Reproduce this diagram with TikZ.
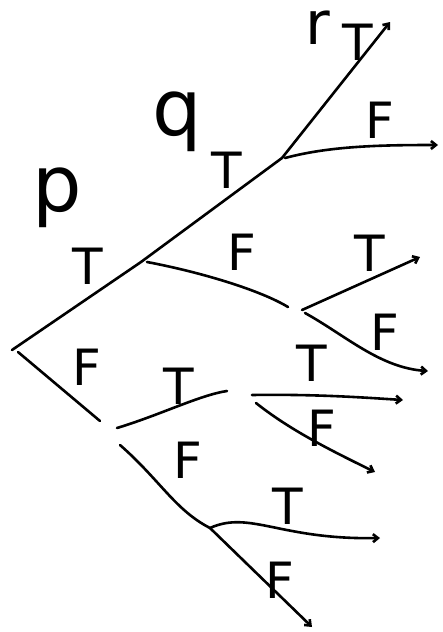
\documentclass[tikz,border=0pt]{standalone}
\usepackage{fontspec}
\setmainfont{DejaVu Sans}
\usetikzlibrary{arrows.meta}

\begin{document}
\begin{tikzpicture}[x=1pt,y=-1pt,
  br/.style={line width=2.6pt,line cap=round},
  leaf/.style={br,-{Straight Barb[length=5pt,width=8pt]}},
  lab/.style={font=\fontsize{50}{50}\selectfont,inner sep=0pt},
  var/.style={font=\fontsize{78}{78}\selectfont,inner sep=0pt}]
  \useasboundingbox (0,0) rectangle (443,632);
  % branch points
  \coordinate (root) at (12,350);
  \coordinate (pT) at (141,262);
  \coordinate (qT) at (282,158);
  \coordinate (qF) at (288,307);
  \coordinate (qFa) at (302,310);
  \coordinate (pF) at (100,421);
  \coordinate (pFa) at (117,428);
  \coordinate (pFb) at (120,445);
  \coordinate (pFT) at (227,391);
  \coordinate (pFTa) at (252,395);
  \coordinate (pFTb) at (256,403);
  \coordinate (pFF) at (210,528);
  % leaves
  \coordinate (rT) at (390,22);
  \coordinate (rF) at (438,145);
  \coordinate (qFT) at (420,257);
  \coordinate (qFF) at (428,371);
  \coordinate (pFTT) at (403,400);
  \coordinate (pFTF) at (375,472);
  \coordinate (pFFT) at (380,538);
  \coordinate (pFFF) at (312,627);

  % p
  \draw[br] (root) -- (pT);
  \draw[br] (root) ++(6,2) -- (pF);
  % q under p=T
  \draw[br] (pT) -- (qT);
  \draw[br] (pT) ++(6,0) .. controls (200,272) and (260,290) .. (qF);
  \draw[leaf] (qT) -- (rT);
  \draw[leaf] (qT) ++(3,0) .. controls (330,146) and (380,145) .. (rF);
  \draw[leaf] (qFa) -- (qFT);
  \draw[leaf] (qFa) ++(3,3) .. controls (345,335) and (380,368) .. (qFF);
  % q under p=F
  \draw[br] (pFa) .. controls (160,415) and (200,395) .. (pFT);
  \draw[br] (pFb) .. controls (160,480) and (175,510) .. (pFF);
  \draw[leaf] (pFTa) .. controls (320,394) and (370,398) .. (pFTT);
  \draw[leaf] (pFTb) .. controls (290,430) and (330,450) .. (pFTF);
  \draw[leaf] (pFF) .. controls (250,510) and (280,540) .. (pFFT);
  \draw[leaf] (pFF) -- (pFFF);

  % variable names
  \node[var] (vp) at (57,198) {p};
  \node[var] (vq) at (177,122) {q};
  \node[var,font=\fontsize{60}{60}\selectfont] (vr) at (318,28) {r};
  % truth values
  \foreach \x/\y/\t [count=\i] in {358/42/T,380/120/F,227/170/T,88/266/T,
      242/252/F,370/253/T,385/332/F,87/367/F,179/386/T,312/363/T,
      322/428/F,188/460/F,288/506/T,280/580/F}
    {\node[lab] (l\i) at (\x,\y) {\t};}
\end{tikzpicture}
\end{document}
